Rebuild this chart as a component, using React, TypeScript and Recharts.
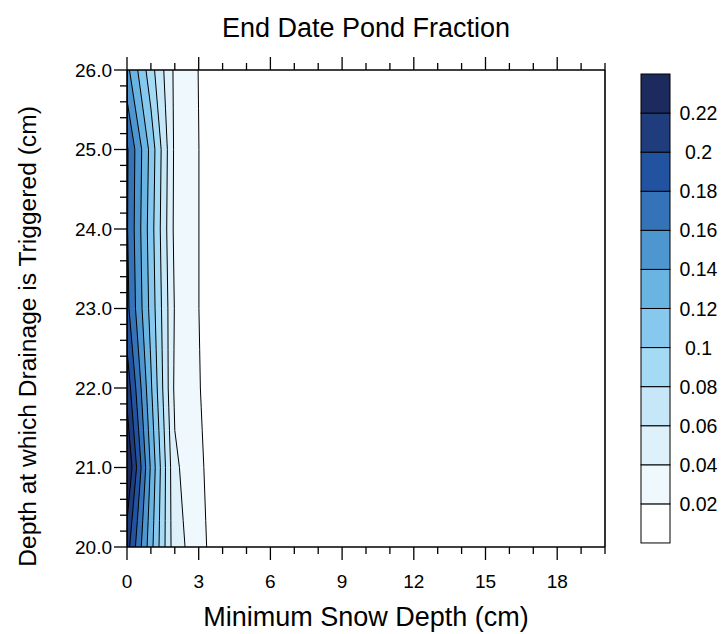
import React from 'react';
import { ComposedChart, Area, XAxis, YAxis } from 'recharts';

// Grid of pond fraction values: columns = minimum snow depth (cm), rows = drainage trigger depth (cm)
const snowDepth = [0, 1, 2, 3, 4];
const drainageDepth = [20, 21, 22, 23, 24, 25, 26];
const fracAt20 = [0.209, 0.127, 0.0475, 0.03, 0];
const fracAt21 = [0.242, 0.137, 0.0435, 0.0255, 0];
const fracAt22 = [0.213, 0.123, 0.036, 0.0215, 0];
const fracAt23 = [0.186, 0.113, 0.0385, 0.0202, 0];
const fracAt24 = [0.182, 0.109, 0.035, 0.0202, 0];
const fracAt25 = [0.183, 0.113, 0.036, 0.0202, 0];
const fracAt26 = [0.146, 0.088, 0.036, 0.0196, 0];

const contourLevels = [0.02, 0.04, 0.06, 0.08, 0.1, 0.12, 0.14, 0.16, 0.18, 0.2, 0.22];
const levelLabels = ['0.02', '0.04', '0.06', '0.08', '0.1', '0.12', '0.14', '0.16', '0.18', '0.2', '0.22'];
const bandColors = ['#ffffff', '#eef8fd', '#def1fa', '#c5e7f7', '#a5daf4', '#87c8ee', '#6ab4e2', '#4e96d0', '#3473b7', '#2253a0', '#1f3d7c', '#1c2a5e'];

const xMajorTicks = [0, 3, 6, 9, 12, 15, 18];
const xMinorTicks = [0, 1, 2, 3, 4, 5, 6, 7, 8, 9, 10, 11, 12, 13, 14, 15, 16, 17, 18, 19, 20];
const yMajorTicks = [20, 21, 22, 23, 24, 25, 26];
const yMinorTicks = [20, 20.2, 20.4, 20.6, 20.8, 21, 21.2, 21.4, 21.6, 21.8, 22, 22.2, 22.4, 22.6, 22.8, 23, 23.2, 23.4, 23.6, 23.8, 24, 24.2, 24.4, 24.6, 24.8, 25, 25.2, 25.4, 25.6, 25.8, 26];

const title = 'End Date Pond Fraction';
const xLabel = 'Minimum Snow Depth (cm)';
const yLabel = 'Depth at which Drainage is Triggered (cm)';

const FONT = '"Liberation Sans", Arial, Helvetica, sans-serif';
const gridRows = [fracAt20, fracAt21, fracAt22, fracAt23, fracAt24, fracAt25, fracAt26];

type Pt = { x: number; y: number };

function rowCrossing(vals: number[], level: number): number | null {
  if (vals[0] < level) return null;
  for (let i = 0; i < vals.length - 1; i++) {
    if (vals[i] >= level && vals[i + 1] < level) {
      return snowDepth[i] + ((vals[i] - level) / (vals[i] - vals[i + 1])) * (snowDepth[i + 1] - snowDepth[i]);
    }
  }
  return snowDepth[snowDepth.length - 1];
}

function contourPath(level: number): Pt[] {
  const pts: Pt[] = [];
  for (let j = 0; j < drainageDepth.length; j++) {
    const a = rowCrossing(gridRows[j], level);
    pts.push({ y: drainageDepth[j], x: a === null ? 0 : a });
    if (j < drainageDepth.length - 1) {
      const mids: Pt[] = [];
      for (let k = 0; k < snowDepth.length; k++) {
        const vA = gridRows[j][k];
        const vB = gridRows[j + 1][k];
        if ((vA >= level) !== (vB >= level)) {
          const t = (level - vA) / (vB - vA);
          mids.push({ y: drainageDepth[j] + t * (drainageDepth[j + 1] - drainageDepth[j]), x: snowDepth[k] });
        }
      }
      mids.sort((p, q) => p.y - q.y);
      pts.push(...mids);
    }
  }
  return pts;
}

function evalAt(pts: Pt[], y: number): number {
  for (let i = 0; i < pts.length - 1; i++) {
    const p = pts[i];
    const q = pts[i + 1];
    if (y >= p.y - 1e-9 && y <= q.y + 1e-9) {
      if (Math.abs(q.y - p.y) < 1e-9) return p.x;
      return p.x + ((y - p.y) / (q.y - p.y)) * (q.x - p.x);
    }
  }
  return pts[pts.length - 1].x;
}

const paths = contourLevels.map(contourPath);
const ySet: number[] = [];
paths.forEach((p) => p.forEach((pt) => ySet.push(Math.round(pt.y * 1e7) / 1e7)));
const ys = Array.from(new Set(ySet)).sort((a, b) => a - b);
const tableData = ys.map((y) => {
  const row: Record<string, number> = { y };
  paths.forEach((p, i) => {
    row['c' + i] = evalAt(p, y);
  });
  return row;
});

const isMajor = (arr: number[], v: number) => arr.some((t) => Math.abs(t - v) < 1e-6);

const BottomTick = (props: any) => {
  const { x, y, payload } = props;
  const major = isMajor(xMajorTicks, payload.value);
  return (
    <g>
      <line x1={x} y1={y} x2={x} y2={y + (major ? 13 : 7)} stroke="#000" strokeWidth={1.3} />
      {major && (
        <text x={x} y={y + 41} textAnchor="middle" fontSize={19} fontFamily={FONT} fill="#000">
          {payload.value}
        </text>
      )}
    </g>
  );
};

const TopTick = (props: any) => {
  const { x, y, payload } = props;
  const major = isMajor(xMajorTicks, payload.value);
  return <line x1={x} y1={y} x2={x} y2={y - (major ? 13 : 7)} stroke="#000" strokeWidth={1.3} />;
};

const LeftTick = (props: any) => {
  const { x, y, payload } = props;
  const major = isMajor(yMajorTicks, payload.value);
  return (
    <g>
      <line x1={x} y1={y} x2={x - (major ? 13 : 7)} y2={y} stroke="#000" strokeWidth={1.3} />
      {major && (
        <text x={x - 15} y={y} dy="0.36em" textAnchor="end" fontSize={19} fontFamily={FONT} fill="#000">
          {Number(payload.value).toFixed(1)}
        </text>
      )}
    </g>
  );
};

const RightTick = (props: any) => {
  const { x, y, payload } = props;
  const major = isMajor(yMajorTicks, payload.value);
  return <line x1={x} y1={y} x2={x + (major ? 13 : 7)} y2={y} stroke="#000" strokeWidth={1.3} />;
};

// page coordinates (body margin removed)
const W = 722;
const H = 634;
const CB_X = 641;
const CB_TOP = 74;
const CB_W = 29;
const CB_CELL = 39.08;

export default function App() {
  return (
    <div style={{ position: 'relative', width: W, height: H, overflow: 'hidden' }}>
      <style>{'html,body{margin:0;padding:0;overflow:hidden;}'}</style>
      <ComposedChart
        width={W}
        height={H}
        layout="vertical"
        data={tableData}
        margin={{ top: 69, right: 116, bottom: 0, left: 0 }}
      >
        <XAxis
          xAxisId="main"
          type="number"
          domain={[0, 20]}
          allowDataOverflow
          ticks={xMinorTicks}
          interval={0}
          tickSize={0}
          tickMargin={0}
          tickLine={false}
          tick={<BottomTick />}
          axisLine={{ stroke: '#000', strokeWidth: 1.6 }}
          height={87}
          orientation="bottom"
        />
        <XAxis
          xAxisId="top"
          type="number"
          domain={[0, 20]}
          allowDataOverflow
          ticks={xMinorTicks}
          interval={0}
          tickSize={0}
          tickMargin={0}
          tickLine={false}
          tick={<TopTick />}
          axisLine={{ stroke: '#000', strokeWidth: 1.6 }}
          height={1}
          orientation="top"
        />
        <YAxis
          yAxisId="main"
          type="number"
          dataKey="y"
          domain={[20, 26]}
          allowDataOverflow
          reversed
          ticks={yMinorTicks}
          interval={0}
          tickSize={0}
          tickMargin={0}
          tickLine={false}
          tick={<LeftTick />}
          axisLine={{ stroke: '#000', strokeWidth: 1.6 }}
          width={127}
          orientation="left"
        />
        <YAxis
          yAxisId="right"
          type="number"
          domain={[20, 26]}
          allowDataOverflow
          reversed
          ticks={yMinorTicks}
          interval={0}
          tickSize={0}
          tickMargin={0}
          tickLine={false}
          tick={<RightTick />}
          axisLine={{ stroke: '#000', strokeWidth: 1.6 }}
          width={1}
          orientation="right"
        />
        {contourLevels.map((lv, i) => (
          <Area
            key={'lv' + lv}
            xAxisId="main"
            yAxisId="main"
            dataKey={'c' + i}
            type="linear"
            baseValue={0}
            fill={bandColors[i + 1]}
            fillOpacity={1}
            stroke="#000"
            strokeWidth={1}
            dot={false}
            activeDot={false}
            isAnimationActive={false}
          />
        ))}
      </ComposedChart>
      <svg
        width={W}
        height={H}
        style={{ position: 'absolute', left: 0, top: 0, pointerEvents: 'none' }}
      >
        <text x={366} y={37} textAnchor="middle" fontSize={27} fontFamily={FONT} fill="#000">
          {title}
        </text>
        <text x={366} y={626} textAnchor="middle" fontSize={27} fontFamily={FONT} fill="#000">
          {xLabel}
        </text>
        <text
          x={0}
          y={0}
          transform="translate(36,336.5) rotate(-90)"
          textAnchor="middle"
          fontSize={24.6}
          fontFamily={FONT}
          fill="#000"
        >
          {yLabel}
        </text>
        {bandColors.map((c, i) => (
          <rect
            key={'cb' + i}
            x={CB_X}
            y={CB_TOP + (11 - i) * CB_CELL}
            width={CB_W}
            height={CB_CELL}
            fill={c}
            stroke="#000"
            strokeWidth={1}
          />
        ))}
        {levelLabels.map((l, k) => (
          <text
            key={'cbl' + k}
            x={698.5}
            y={CB_TOP + (11 - k) * CB_CELL}
            dy="0.36em"
            textAnchor="middle"
            fontSize={19.5}
            fontFamily={FONT}
            fill="#000"
          >
            {l}
          </text>
        ))}
      </svg>
    </div>
  );
}
